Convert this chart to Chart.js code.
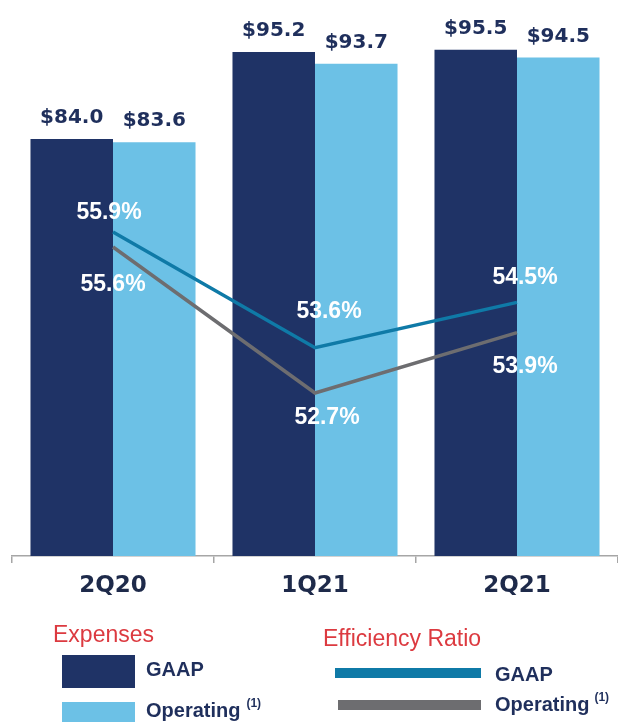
<!DOCTYPE html>
<html>
<head>
<meta charset="utf-8">
<script src="https://cdn.jsdelivr.net/npm/chart.js@4.4.1/dist/chart.umd.min.js"></script>
<style>
  html, body { margin: 0; padding: 0; background: #ffffff; }
  #wrap { position: relative; width: 618px; height: 722px; }
</style>
</head>
<body>
<div id="wrap"><canvas id="c" width="618" height="722"></canvas></div>
<script>
// ---- Data ----
const categories = ['2Q20', '1Q21', '2Q21'];
const expensesGAAP = [84.0, 95.2, 95.5];
const expensesOperating = [83.6, 93.7, 94.5];
const efficiencyGAAP = [55.9, 53.6, 54.5];
const efficiencyOperating = [55.6, 52.7, 53.9];

// ---- Styles ----
const NAVY = '#1f3366';
const LIGHT = '#6cc1e6';
const TEAL = '#0f7aa7';
const GRAY = '#6d6d70';
const RED = '#dc3a40';
const TEXT_NAVY = '#1f2f5c';

// label offsets for the percentage labels (dx, dy from the point)
const pctOffsets = {
  2: [[-4, -19], [14, -36], [8, -25]],
  3: [[0, 38], [12, 25], [8, 34]]
};

const labelPlugin = {
  id: 'labels',
  afterDatasetsDraw(chart) {
    const ctx = chart.ctx;
    ctx.save();
    ctx.textAlign = 'center';
    ctx.textBaseline = 'middle';
    // bar value labels
    [0, 1].forEach(di => {
      const meta = chart.getDatasetMeta(di);
      const vals = chart.data.datasets[di].data;
      ctx.font = 'bold 20px "DejaVu Sans"';
      ctx.fillStyle = TEXT_NAVY;
      meta.data.forEach((el, i) => {
        ctx.fillText('$' + vals[i].toFixed(1), el.x, el.y - 21);
      });
    });
    // percentage labels
    [2, 3].forEach(di => {
      const meta = chart.getDatasetMeta(di);
      const vals = chart.data.datasets[di].data;
      ctx.font = 'bold 23px "Liberation Sans"';
      ctx.fillStyle = '#ffffff';
      meta.data.forEach((el, i) => {
        const o = pctOffsets[di][i];
        ctx.fillText(vals[i].toFixed(1) + '%', el.x + o[0], el.y + o[1]);
      });
    });
    ctx.restore();
  },
  afterDraw(chart) {
    const ctx = chart.ctx;
    ctx.save();
    ctx.textBaseline = 'middle';
    ctx.textAlign = 'left';
    // Expenses legend
    ctx.fillStyle = RED;
    ctx.font = '23px "Liberation Sans"';
    ctx.fillText('Expenses', 53, 636);
    ctx.fillStyle = NAVY;
    ctx.fillRect(62, 655, 73, 33);
    ctx.fillStyle = LIGHT;
    ctx.fillRect(62, 702, 73, 22);
    ctx.fillStyle = TEXT_NAVY;
    ctx.font = 'bold 20px "Liberation Sans"';
    ctx.fillText('GAAP', 146, 670);
    ctx.fillText('Operating', 146, 711);
    let w = ctx.measureText('Operating').width;
    ctx.font = 'bold 12px "Liberation Sans"';
    ctx.fillText('(1)', 146 + w + 6, 704);

    // Efficiency Ratio legend
    ctx.fillStyle = RED;
    ctx.font = '23px "Liberation Sans"';
    ctx.fillText('Efficiency Ratio', 323, 640);
    ctx.fillStyle = TEAL;
    ctx.fillRect(335, 668, 146, 10);
    ctx.fillStyle = GRAY;
    ctx.fillRect(338, 700, 143, 10);
    ctx.fillStyle = TEXT_NAVY;
    ctx.font = 'bold 20px "Liberation Sans"';
    ctx.fillText('GAAP', 495, 675);
    ctx.fillText('Operating', 495, 705);
    w = ctx.measureText('Operating').width;
    ctx.font = 'bold 12px "Liberation Sans"';
    ctx.fillText('(1)', 495 + w + 5, 698);
    ctx.restore();
  }
};

new Chart(document.getElementById('c'), {
  data: {
    labels: categories,
    datasets: [
      { type: 'bar', label: 'Expenses GAAP', data: expensesGAAP, backgroundColor: NAVY,
        yAxisID: 'y', order: 2, barPercentage: 1, categoryPercentage: 0.817 },
      { type: 'bar', label: 'Expenses Operating', data: expensesOperating, backgroundColor: LIGHT,
        yAxisID: 'y', order: 2, barPercentage: 1, categoryPercentage: 0.817 },
      { type: 'line', label: 'Efficiency Ratio GAAP', data: efficiencyGAAP, borderColor: TEAL,
        borderWidth: 3.5, pointRadius: 0, tension: 0, yAxisID: 'y2', order: 0 },
      { type: 'line', label: 'Efficiency Ratio Operating', data: efficiencyOperating, borderColor: GRAY,
        borderWidth: 3.5, pointRadius: 0, tension: 0, yAxisID: 'y2', order: 1 }
    ]
  },
  options: {
    responsive: false,
    animation: false,
    layout: { padding: { left: 12, right: 0, top: 10, bottom: 0 } },
    plugins: { legend: { display: false }, tooltip: { enabled: false } },
    scales: {
      x: {
        offset: true,
        grid: { offset: true, drawOnChartArea: false, drawTicks: true, tickLength: 7, color: '#a6a6a6', lineWidth: 1.5 },
        border: { display: true, color: '#a6a6a6', width: 1.5 },
        ticks: { color: '#1e2a4a', font: { family: 'DejaVu Sans', weight: 'bold', size: 23 }, padding: 9 },
        afterFit(scale) { scale.height = 166; }
      },
      y: { display: false, min: 30.32, max: 100.61 },
      y2: { display: false, min: 49.46, max: 60.31, position: 'right' }
    }
  },
  plugins: [labelPlugin]
});
</script>
</body>
</html>
